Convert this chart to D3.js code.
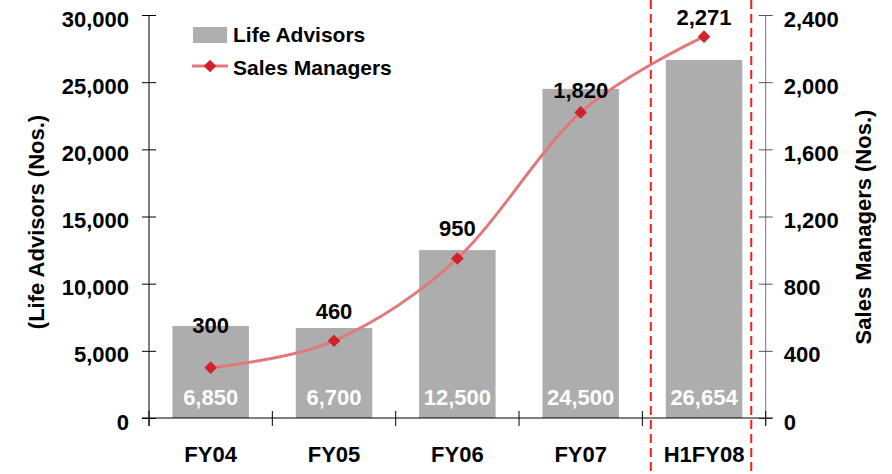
<!DOCTYPE html>
<html>
<head>
<meta charset="utf-8">
<script src="https://cdn.jsdelivr.net/npm/d3@7"></script>
<style>
  html, body { margin: 0; padding: 0; background: #fff; }
  svg { display: block; }
  text { font-family: "Liberation Sans", Arial, sans-serif; font-weight: bold; }
</style>
</head>
<body>
<svg id="chart" width="892" height="474"></svg>
<script>
// Data
const categories = ["FY04", "FY05", "FY06", "FY07", "H1FY08"];
const lifeAdvisors = [6850, 6700, 12500, 24500, 26654];
const salesManagers = [300, 460, 950, 1820, 2271];
const leftTicks = [0, 5000, 10000, 15000, 20000, 25000, 30000];
const rightTicks = [0, 400, 800, 1200, 1600, 2000, 2400];
const highlighted = "H1FY08";

const svg = d3.select("#chart");
const W = 892, H = 474;
const plot = { left: 149, right: 765.7, top: 15, bottom: 418 };

const x = d3.scaleBand()
  .domain(categories)
  .range([plot.left, plot.right])
  .paddingInner(0.38)
  .paddingOuter(0.19);

const yL = d3.scaleLinear().domain([0, 30000]).range([plot.bottom, plot.top]);
const yR = d3.scaleLinear().domain([0, 2400]).range([plot.bottom, plot.top]);
const fmt = d3.format(",");

// Bars
svg.append("g").selectAll("rect")
  .data(categories)
  .join("rect")
  .attr("x", d => x(d))
  .attr("width", x.bandwidth())
  .attr("y", (d, i) => yL(lifeAdvisors[i]))
  .attr("height", (d, i) => yL(0) - yL(lifeAdvisors[i]))
  .attr("fill", "#adadad");

// Values inside bars
svg.append("g").selectAll("text")
  .data(categories)
  .join("text")
  .attr("x", d => x(d) + x.bandwidth() / 2)
  .attr("y", 405)
  .attr("text-anchor", "middle")
  .attr("font-size", 22)
  .attr("fill", "#fff")
  .text((d, i) => fmt(lifeAdvisors[i]));

// Left axis
const gL = svg.append("g")
  .attr("transform", `translate(${plot.left},0)`)
  .call(d3.axisLeft(yL).tickValues(leftTicks).tickFormat(fmt).tickSize(7).tickPadding(13));
gL.select(".domain").attr("d", `M0,${plot.top}V${plot.bottom + 8}`).attr("stroke", "#000");
gL.selectAll(".tick line").attr("x1", 7).attr("x2", -7).attr("stroke", "#000");
gL.selectAll(".tick text").attr("font-size", 22).attr("dy", "0.5em").attr("fill", "#000")
  .style("font-family", "'Liberation Sans', Arial, sans-serif");

// Right axis
const gR = svg.append("g")
  .attr("transform", `translate(${plot.right},0)`)
  .call(d3.axisRight(yR).tickValues(rightTicks).tickFormat(fmt).tickSize(7).tickPadding(11));
gR.select(".domain").attr("d", `M0,${plot.top}V${plot.bottom + 8}`).attr("stroke", "#777");
gR.selectAll(".tick line").attr("x1", -7).attr("x2", 7).attr("stroke", "#555");
gR.selectAll(".tick text").attr("font-size", 22).attr("dy", "0.5em").attr("fill", "#000")
  .style("font-family", "'Liberation Sans', Arial, sans-serif");

// Category axis
const step = x.step();
const gap = step * x.paddingInner() / 2;
svg.append("line")
  .attr("x1", plot.left - 7).attr("x2", plot.right + 7)
  .attr("y1", plot.bottom).attr("y2", plot.bottom)
  .attr("stroke", "#000").attr("stroke-width", 1.2);
const boundaries = categories.map(c => x(c) - gap).concat([x(categories[categories.length - 1]) + x.bandwidth() + gap]);
svg.append("g").selectAll("line")
  .data(boundaries)
  .join("line")
  .attr("x1", d => d).attr("x2", d => d)
  .attr("y1", plot.bottom - 7).attr("y2", plot.bottom + 8)
  .attr("stroke", "#000");
svg.append("g").selectAll("text")
  .data(categories)
  .join("text")
  .attr("x", d => x(d) + x.bandwidth() / 2)
  .attr("y", 462)
  .attr("text-anchor", "middle")
  .attr("font-size", 22)
  .attr("fill", "#000")
  .text(d => d);

// Dashed frame around the half-year period
const hx = x(highlighted);
[hx - 15, hx + x.bandwidth() + 9].forEach(px => {
  svg.append("line")
    .attr("x1", px).attr("x2", px)
    .attr("y1", 0).attr("y2", H)
    .attr("stroke", "#ff1a1a")
    .attr("stroke-width", 2)
    .attr("stroke-dasharray", "9,5");
});

// Sales managers line
const pts = categories.map((c, i) => [x(c) + x.bandwidth() / 2, yR(salesManagers[i])]);
svg.append("path")
  .attr("d", d3.line().curve(d3.curveCardinal.tension(0))(pts))
  .attr("fill", "none")
  .attr("stroke", "#e0787c")
  .attr("stroke-width", 3);

const diamond = d3.symbol().type(d3.symbolSquare).size(80);
svg.append("g").selectAll("path")
  .data(pts)
  .join("path")
  .attr("d", diamond)
  .attr("transform", d => `translate(${d[0]},${d[1]}) rotate(45)`)
  .attr("fill", "#d2232a");

// Labels above markers (lifted per point to clear the bars)
const lift = [35, 22, 22, 14, 12];
svg.append("g").selectAll("text")
  .data(pts)
  .join("text")
  .attr("x", d => d[0])
  .attr("y", (d, i) => d[1] - lift[i])
  .attr("text-anchor", "middle")
  .attr("font-size", 22)
  .attr("fill", "#000")
  .text((d, i) => fmt(salesManagers[i]));

// Axis titles
svg.append("text")
  .attr("transform", "translate(44,222) rotate(-90)")
  .attr("text-anchor", "middle")
  .attr("font-size", 22)
  .attr("fill", "#000")
  .text("(Life Advisors (Nos.)");
svg.append("text")
  .attr("transform", "translate(871,227) rotate(-90)")
  .attr("text-anchor", "middle")
  .attr("font-size", 22)
  .attr("fill", "#000")
  .text("Sales Managers (Nos.)");

// Legend
const lg = svg.append("g");
lg.append("rect").attr("x", 193).attr("y", 27).attr("width", 34).attr("height", 16).attr("fill", "#afafaf");
lg.append("text").attr("x", 233).attr("y", 42).attr("font-size", 21).attr("fill", "#000").text("Life Advisors");
lg.append("line").attr("x1", 192).attr("x2", 228).attr("y1", 66).attr("y2", 66)
  .attr("stroke", "#e0787c").attr("stroke-width", 3);
lg.append("path").attr("d", diamond).attr("transform", "translate(210,66) rotate(45)").attr("fill", "#d2232a");
lg.append("text").attr("x", 233).attr("y", 75).attr("font-size", 21).attr("fill", "#000").text("Sales Managers");
</script>
</body>
</html>
